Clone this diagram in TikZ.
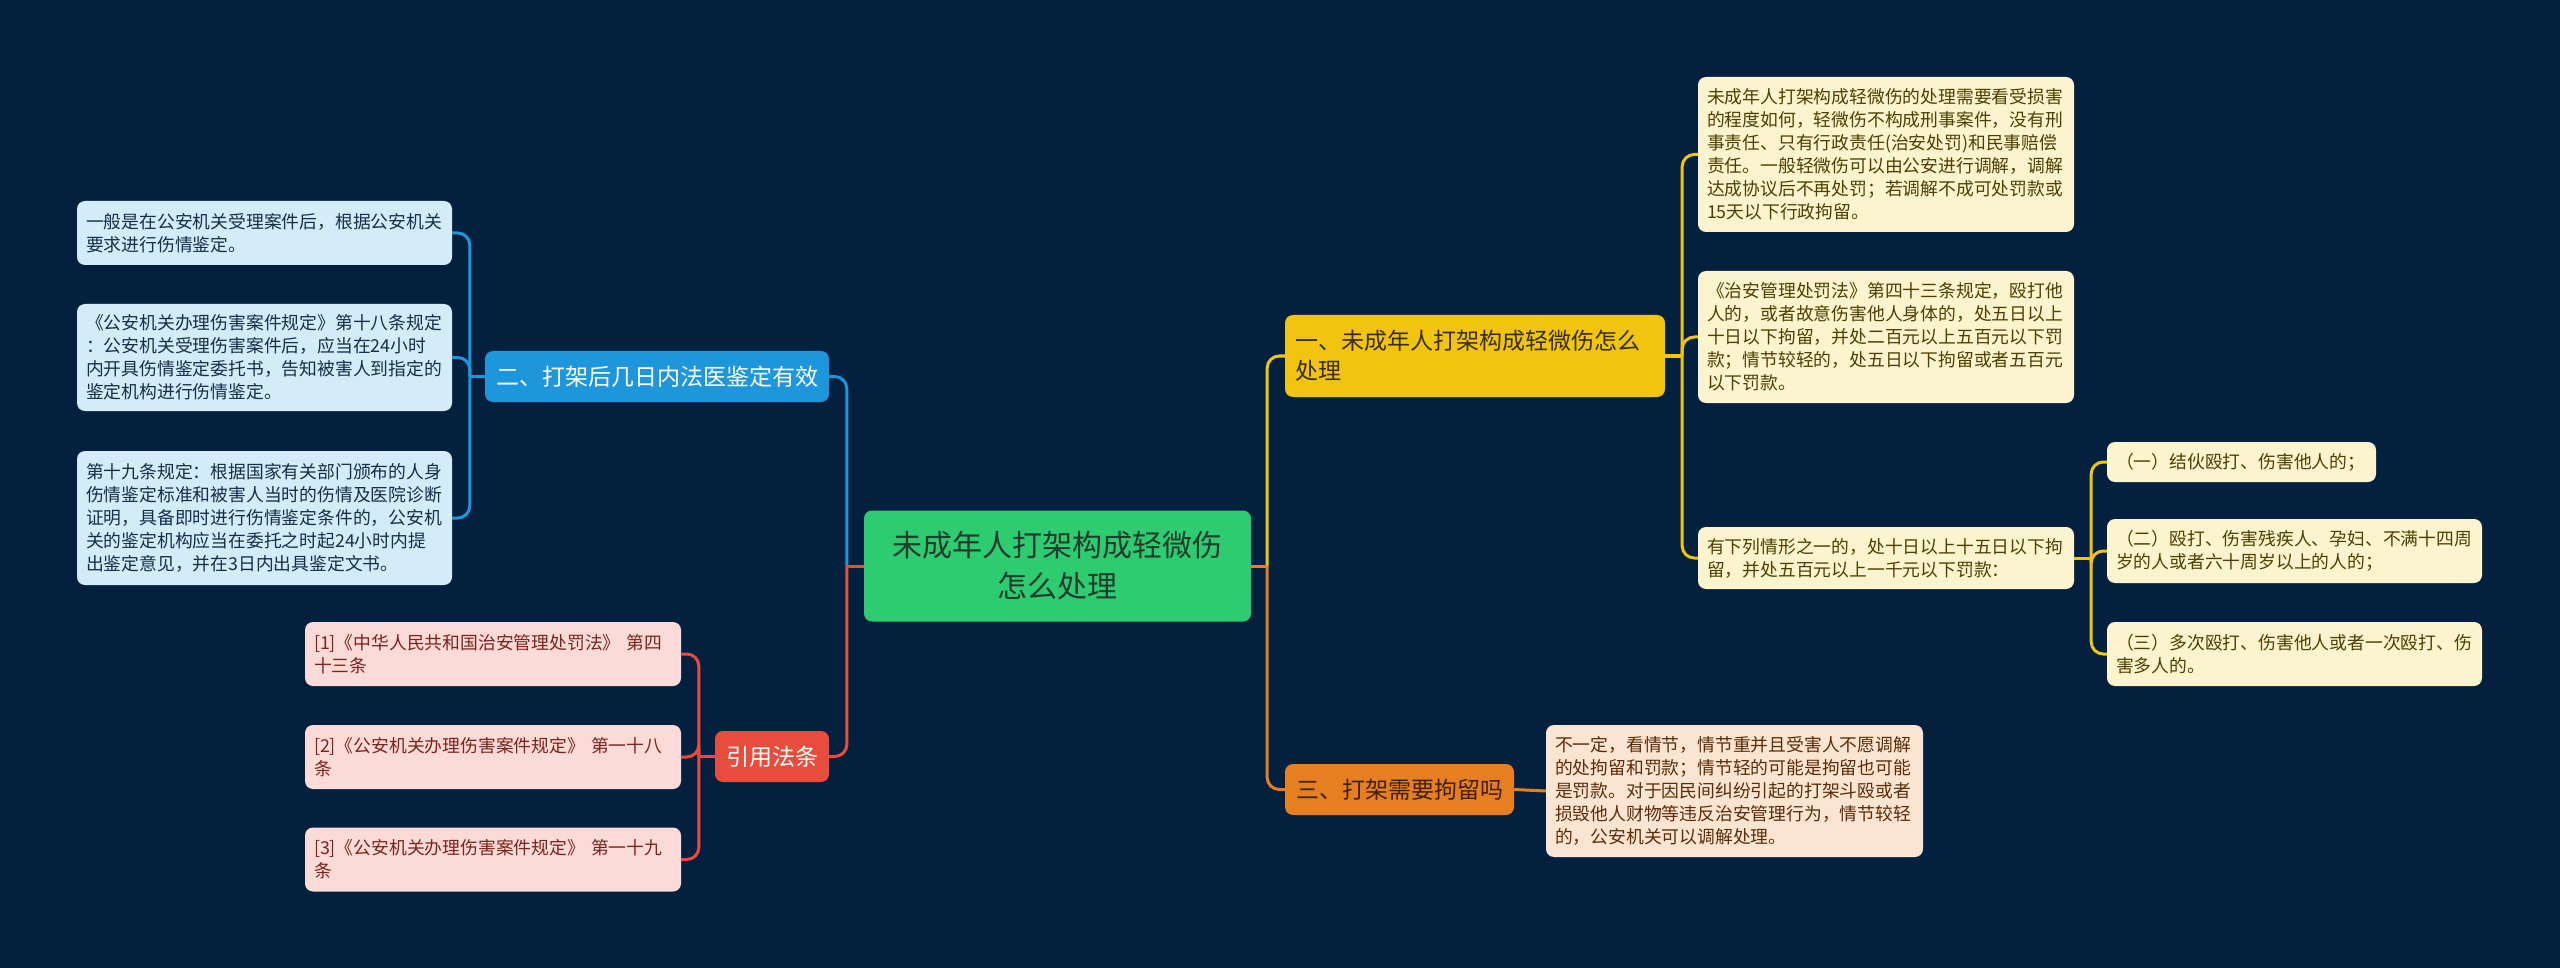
\documentclass[tikz,border=0pt]{standalone}
\usepackage{fontspec}
\setmainfont{Noto Sans CJK SC}
\usetikzlibrary{calc}
\definecolor{bg}{HTML}{03213F}
\definecolor{cgreen}{HTML}{2ECC71}
\definecolor{cgreentxt}{HTML}{1F3B2C}
\definecolor{cblue}{HTML}{1E96DC}
\definecolor{lblue}{HTML}{D4EBF8}
\definecolor{tblue}{HTML}{12304A}
\definecolor{cred}{HTML}{E74C3C}
\definecolor{lred}{HTML}{FADBD8}
\definecolor{tred}{HTML}{7B241C}
\definecolor{cyellow}{HTML}{F1C40F}
\definecolor{lyellow}{HTML}{FCF3CF}
\definecolor{tyellow}{HTML}{4D4000}
\definecolor{corange}{HTML}{E67E22}
\definecolor{lorange}{HTML}{FAE5D3}
\definecolor{torange}{HTML}{5B2C06}
\tikzset{
  box/.style={rounded corners=8pt, inner ysep=0pt, inner xsep=10pt, anchor=center},
  leaf/.style={box, inner xsep=9pt, align=left, font=\fontsize{17.8}{23}\selectfont},
  topic/.style={box, font=\fontsize{23}{30}\selectfont},
  link/.style={line width=3pt, rounded corners=12pt},
}
\begin{document}
\begin{tikzpicture}[x=1pt,y=-1pt]
\fill[bg] (0,0) rectangle (2560,968);
\useasboundingbox (0,0) rectangle (2560,968);

% central
\node[box, fill=cgreen, text=cgreentxt, align=center, minimum width=387pt, minimum height=111pt,
  font=\fontsize{30}{41}\selectfont] (c) at (1057.5,566) {未成年人打架构成轻微伤\\怎么处理};

% main topics
\node[topic, fill=cblue, text=white, minimum width=344pt, minimum height=51pt] (n2) at (657,376.5) {二、打架后几日内法医鉴定有效};
\node[topic, fill=cred, text=white, minimum width=114pt, minimum height=51pt] (nr) at (772,756.5) {引用法条};
\node[topic, fill=cyellow, text=tyellow!70!black, align=left, text width=360pt, minimum height=82pt] (n1) at (1475,356) {一、未成年人打架构成轻微伤怎么\\处理};
\node[topic, fill=corange, text=torange!70!black, minimum width=229pt, minimum height=51pt] (n3) at (1399.5,789.5) {三、打架需要拘留吗};

% blue leaves
\node[leaf, fill=lblue, text=tblue, text width=357pt, minimum height=64pt] (b1) at (264.5,233) {一般是在公安机关受理案件后，根据公安机关\\要求进行伤情鉴定。};
\node[leaf, fill=lblue, text=tblue, text width=357pt, minimum height=107pt] (b2) at (264.5,357.5) {《公安机关办理伤害案件规定》第十八条规定\\：公安机关受理伤害案件后，应当在24小时\\内开具伤情鉴定委托书，告知被害人到指定的\\鉴定机构进行伤情鉴定。};
\node[leaf, fill=lblue, text=tblue, text width=357pt, minimum height=134pt] (b3) at (264.5,518) {第十九条规定：根据国家有关部门颁布的人身\\伤情鉴定标准和被害人当时的伤情及医院诊断\\证明，具备即时进行伤情鉴定条件的，公安机\\关的鉴定机构应当在委托之时起24小时内提\\出鉴定意见，并在3日内出具鉴定文书。};

% pink leaves
\node[leaf, fill=lred, text=tred, text width=358pt, minimum height=64pt] (r1) at (493,654) {[1]《中华人民共和国治安管理处罚法》~第四\\十三条};
\node[leaf, fill=lred, text=tred, text width=358pt, minimum height=64pt] (r2) at (493,757) {[2]《公安机关办理伤害案件规定》~第一十八\\条};
\node[leaf, fill=lred, text=tred, text width=358pt, minimum height=64pt] (r3) at (493,859.5) {[3]《公安机关办理伤害案件规定》~第一十九\\条};

% yellow leaves
\node[leaf, fill=lyellow, text=tyellow, text width=358pt, minimum height=155pt] (y1) at (1886,154.5) {未成年人打架构成轻微伤的处理需要看受损害\\的程度如何，轻微伤不构成刑事案件，没有刑\\事责任、只有行政责任(治安处罚)和民事赔偿\\责任。一般轻微伤可以由公安进行调解，调解\\达成协议后不再处罚；若调解不成可处罚款或\\15天以下行政拘留。};
\node[leaf, fill=lyellow, text=tyellow, text width=358pt, minimum height=132pt] (y2) at (1886,337) {《治安管理处罚法》第四十三条规定，殴打他\\人的，或者故意伤害他人身体的，处五日以上\\十日以下拘留，并处二百元以上五百元以下罚\\款；情节较轻的，处五日以下拘留或者五百元\\以下罚款。};
\node[leaf, fill=lyellow, text=tyellow, text width=358pt, minimum height=62pt] (y3) at (1886,558) {有下列情形之一的，处十日以上十五日以下拘\\留，并处五百元以上一千元以下罚款：};

% sub leaves
\node[leaf, fill=lyellow, text=tyellow, text width=251pt, minimum height=40pt] (s1) at (2241.5,462) {（一）结伙殴打、伤害他人的；};
\node[leaf, fill=lyellow, text=tyellow, text width=357pt, minimum height=64pt] (s2) at (2294.5,551) {（二）殴打、伤害残疾人、孕妇、不满十四周\\岁的人或者六十周岁以上的人的；};
\node[leaf, fill=lyellow, text=tyellow, text width=357pt, minimum height=64pt] (s3) at (2294.5,654) {（三）多次殴打、伤害他人或者一次殴打、伤\\害多人的。};

% orange leaf
\node[leaf, fill=lorange, text=torange, text width=359pt, minimum height=132pt] (o1) at (1734.5,791) {不一定，看情节，情节重并且受害人不愿调解\\的处拘留和罚款；情节轻的可能是拘留也可能\\是罚款。对于因民间纠纷引起的打架斗殴或者\\损毁他人财物等违反治安管理行为，情节较轻\\的，公安机关可以调解处理。};

% junction coordinates
\coordinate (jl) at ($(c.west)+(-17,0)$);
\coordinate (jr) at ($(c.east)+(16,0)$);
\coordinate (j2) at ($(n2.west)+(-15,0)$);
\coordinate (jrr) at ($(nr.west)+(-16,0)$);
\coordinate (j1) at ($(n1.east)+(17,0)$);
\coordinate (jy3) at ($(y3.east)+(17,0)$);

% center -> main topics
\draw[link, cblue] (jl) |- (n2.east);
\draw[link, cred] (jl) |- (nr.east);
\draw[link, cred] (c.west) -- (jl);
\draw[link, cyellow] (jr) |- (n1.west);
\draw[link, corange] (jr) |- (n3.west);
\draw[link, corange] (c.east) -- (jr);

% 二 -> blue leaves
\draw[link, cblue] (n2.west) -- (j2);
\draw[link, cblue] (j2) |- (b1.east);
\draw[link, cblue] (j2) |- (b2.east);
\draw[link, cblue] (j2) |- (b3.east);

% 引用法条 -> pink leaves
\draw[link, cred] (nr.west) -- (jrr);
\draw[link, cred] (jrr) |- (r1.east);
\draw[link, cred] (jrr) |- (r2.east);
\draw[link, cred] (jrr) |- (r3.east);

% 一 -> yellow leaves
\draw[link, cyellow] (n1.east) -- (j1);
\draw[link, cyellow] (j1) |- (y1.west);
\draw[link, cyellow] (j1) |- (y2.west);
\draw[link, cyellow] (j1) |- (y3.west);

% yellow leaf 3 -> subs
\draw[link, cyellow] (y3.east) -- (jy3);
\draw[link, cyellow] (jy3) |- (s1.west);
\draw[link, cyellow] (jy3) |- (s2.west);
\draw[link, cyellow] (jy3) |- (s3.west);

% 三 -> orange leaf
\draw[link, corange] (n3.east) -- (o1.west);
\end{tikzpicture}
\end{document}
